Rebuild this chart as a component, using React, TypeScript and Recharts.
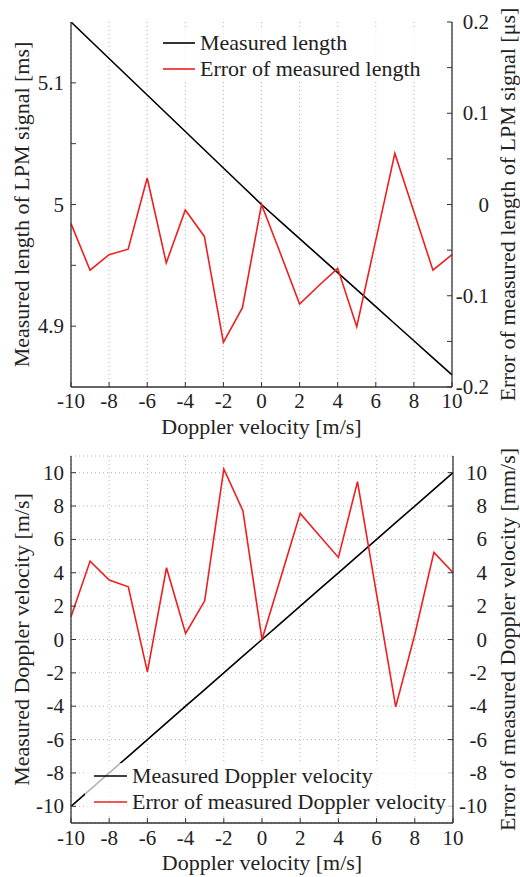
import { CartesianGrid, Legend, Line, LineChart, XAxis, YAxis } from 'recharts'

const velocity = [-10, -9, -8, -7, -6, -5, -4, -3, -2, -1, 0, 1, 2, 3, 4, 5, 6, 7, 8, 9, 10]

// top panel: LPM signal length [ms] and its error [us]
const measuredLength = [
  5.15, 5.135, 5.12, 5.105, 5.09, 5.075, 5.06, 5.045, 5.03, 5.015, 5.0, 4.986, 4.972, 4.958, 4.944,
  4.93, 4.916, 4.902, 4.888, 4.874, 4.86,
]
const lengthError = [
  -0.021, -0.072, -0.055, -0.049, 0.029, -0.064, -0.006, -0.035, -0.151, -0.113, 0, -0.054, -0.109,
  -0.089, -0.07, -0.134, -0.039, 0.056, -0.008, -0.072, -0.055,
]

// bottom panel: Doppler velocity [m/s] and its error [mm/s]
const measuredDoppler = [-10, -9, -8, -7, -6, -5, -4, -3, -2, -1, 0, 1, 2, 3, 4, 5, 6, 7, 8, 9, 10]
const dopplerError = [
  1.36, 4.7, 3.56, 3.16, -1.94, 4.3, 0.36, 2.32, 10.22, 7.72, 0, 3.78, 7.56, 6.24, 4.92, 9.46, 2.7,
  -4.04, 0.3, 5.22, 4.02,
]

const xTicks = [-10, -8, -6, -4, -2, 0, 2, 4, 6, 8, 10]
const lengthTicks = [4.9, 4.95, 5, 5.05, 5.1]
const lengthErrTicks = [-0.2, -0.15, -0.1, -0.05, 0, 0.05, 0.1, 0.15, 0.2]
const dopplerTicks = [-10, -8, -6, -4, -2, 0, 2, 4, 6, 8, 10]

const topNames = ['Measured length', 'Error of measured length']
const bottomNames = ['Measured Doppler velocity', 'Error of measured Doppler velocity']

const FONT = '"Liberation Serif", "Times New Roman", Times, "Nimbus Roman", "DejaVu Serif", serif'
const TEXT = '#222'
const AXIS = '#333'
const RED = '#f01e1e'

const topData = velocity.map((v, i) => ({ v, length: measuredLength[i], err: lengthError[i] }))
const bottomData = velocity.map((v, i) => ({ v, doppler: measuredDoppler[i], err: dopplerError[i] }))

// labels only on multiples of 0.1, minor ticks stay as plain marks
const tenths = (v: number) =>
  Math.abs(v * 10 - Math.round(v * 10)) < 1e-6 ? String(Math.round(v * 10) / 10) : ''

// MATLAB style tick: mark points into the box
function EdgeTick(props: any) {
  const { x, y, payload, side, fmt, offset = 0 } = props
  const label = fmt ? fmt(payload.value) : ''
  const textStyle = { fontFamily: FONT, fontSize: 21, fill: TEXT }
  if (side === 'left') {
    return (
      <g>
        <line x1={x} y1={y} x2={x + 5} y2={y} stroke={AXIS} />
        <text x={x - offset} y={y} textAnchor="end" dominantBaseline="central" style={textStyle}>
          {label}
        </text>
      </g>
    )
  }
  if (side === 'right') {
    return (
      <g>
        <line x1={x} y1={y} x2={x - 5} y2={y} stroke={AXIS} />
        <text x={x + offset} y={y} textAnchor="end" dominantBaseline="central" style={textStyle}>
          {label}
        </text>
      </g>
    )
  }
  if (side === 'top') {
    return <line x1={x} y1={y} x2={x} y2={y + 5} stroke={AXIS} />
  }
  return (
    <g>
      <line x1={x} y1={y} x2={x} y2={y - 5} stroke={AXIS} />
      <text x={x} y={y + offset} textAnchor="middle" dominantBaseline="central" style={textStyle}>
        {label}
      </text>
    </g>
  )
}

function BoxLegend(props: any) {
  const { payload = [], sample, order } = props
  const items = [...payload].sort((a: any, b: any) => order.indexOf(a.value) - order.indexOf(b.value))
  return (
    <div
      style={{
        background: 'rgba(255,255,255,0.7)',
        padding: '0 6px 0 9px',
        fontFamily: FONT,
        fontSize: 22,
        color: TEXT,
      }}
    >
      {items.map((entry: any) => (
        <div key={entry.value} style={{ display: 'flex', alignItems: 'center', height: 26 }}>
          <svg width={sample} height={4} style={{ marginRight: 5 }}>
            <line x1={0} y1={2} x2={sample} y2={2} stroke={entry.color} strokeWidth={1.6} />
          </svg>
          <span style={{ whiteSpace: 'nowrap', lineHeight: '26px' }}>{entry.value}</span>
        </div>
      ))}
    </div>
  )
}

const titleStyle = { fontFamily: FONT, fontSize: 22, fill: TEXT }

function LengthChart() {
  return (
    <LineChart width={520} height={440} data={topData} margin={{ top: 22, right: 0, bottom: 0, left: 0 }}>
      <CartesianGrid horizontal={false} stroke="#b5b5b5" strokeDasharray="1 3" yAxisId="left" />
      <XAxis
        dataKey="v"
        type="number"
        domain={[-10, 10]}
        ticks={xTicks}
        height={53}
        tickSize={0}
        tickMargin={0}
        tickLine={false}
        axisLine={{ stroke: AXIS, strokeWidth: 1.3 }}
        tick={<EdgeTick side="bottom" fmt={String} offset={14} />}
        label={{ value: 'Doppler velocity [m/s]', position: 'center', dy: 13, style: titleStyle }}
      />
      <XAxis
        xAxisId="top"
        orientation="top"
        dataKey="v"
        type="number"
        domain={[-10, 10]}
        ticks={xTicks}
        height={0}
        tickSize={0}
        tickMargin={0}
        tickLine={false}
        axisLine={{ stroke: AXIS, strokeWidth: 1.3 }}
        tick={<EdgeTick side="top" />}
      />
      <YAxis
        yAxisId="left"
        domain={[4.85, 5.15]}
        ticks={lengthTicks}
        allowDataOverflow
        width={71}
        tickSize={0}
        tickMargin={0}
        tickLine={false}
        axisLine={{ stroke: AXIS, strokeWidth: 1.3 }}
        tick={<EdgeTick side="left" fmt={tenths} offset={7} />}
        label={{
          value: 'Measured length of LPM signal [ms]',
          angle: -90,
          position: 'center',
          dx: -14,
          style: titleStyle,
        }}
      />
      <YAxis
        yAxisId="right"
        orientation="right"
        domain={[-0.2, 0.2]}
        ticks={lengthErrTicks}
        allowDataOverflow
        width={68}
        tickSize={0}
        tickMargin={0}
        tickLine={false}
        axisLine={{ stroke: AXIS, strokeWidth: 1.3 }}
        tick={<EdgeTick side="right" fmt={tenths} offset={37} />}
        label={{
          value: 'Error of measured length of LPM signal [μs]',
          angle: -90,
          position: 'center',
          dx: 21,
          style: titleStyle,
        }}
      />
      <Legend
        layout="vertical"
        align="center"
        verticalAlign="middle"
        wrapperStyle={{ left: 154, top: 30, width: 'auto', height: 'auto' }}
        content={<BoxLegend sample={32} order={topNames} />}
      />
      <Line
        yAxisId="left"
        dataKey="length"
        name={topNames[0]}
        stroke="#000"
        strokeWidth={1.6}
        dot={false}
        isAnimationActive={false}
      />
      <Line
        yAxisId="right"
        dataKey="err"
        name={topNames[1]}
        stroke={RED}
        strokeWidth={1.6}
        dot={false}
        isAnimationActive={false}
      />
    </LineChart>
  )
}

function DopplerChart() {
  return (
    <LineChart width={520} height={437} data={bottomData} margin={{ top: 16, right: 0, bottom: 0, left: 0 }}>
      <CartesianGrid stroke="#b5b5b5" strokeDasharray="1 3" yAxisId="left" />
      <XAxis
        dataKey="v"
        type="number"
        domain={[-10, 10]}
        ticks={xTicks}
        height={54}
        tickSize={0}
        tickMargin={0}
        tickLine={false}
        axisLine={{ stroke: AXIS, strokeWidth: 1.3 }}
        tick={<EdgeTick side="bottom" fmt={String} offset={15} />}
        label={{ value: 'Doppler velocity [m/s]', position: 'center', dy: 12, style: titleStyle }}
      />
      <XAxis
        xAxisId="top"
        orientation="top"
        dataKey="v"
        type="number"
        domain={[-10, 10]}
        ticks={xTicks}
        height={0}
        tickSize={0}
        tickMargin={0}
        tickLine={false}
        axisLine={{ stroke: AXIS, strokeWidth: 1.3 }}
        tick={<EdgeTick side="top" />}
      />
      <YAxis
        yAxisId="left"
        domain={[-11, 11]}
        ticks={dopplerTicks}
        allowDataOverflow
        width={71}
        tickSize={0}
        tickMargin={0}
        tickLine={false}
        axisLine={{ stroke: AXIS, strokeWidth: 1.3 }}
        tick={<EdgeTick side="left" fmt={String} offset={7} />}
        label={{
          value: 'Measured Doppler velocity [m/s]',
          angle: -90,
          position: 'center',
          dx: -14,
          style: titleStyle,
        }}
      />
      <YAxis
        yAxisId="right"
        orientation="right"
        domain={[-11, 11]}
        ticks={dopplerTicks}
        allowDataOverflow
        width={67}
        tickSize={0}
        tickMargin={0}
        tickLine={false}
        axisLine={{ stroke: AXIS, strokeWidth: 1.3 }}
        tick={<EdgeTick side="right" fmt={String} offset={34} />}
        label={{
          value: 'Error of measured Doppler velocity [mm/s]',
          angle: -90,
          position: 'center',
          dx: 21,
          style: titleStyle,
        }}
      />
      <Legend
        layout="vertical"
        align="center"
        verticalAlign="middle"
        wrapperStyle={{ left: 85, top: 323, width: 'auto', height: 'auto' }}
        content={<BoxLegend sample={33} order={bottomNames} />}
      />
      <Line
        yAxisId="left"
        dataKey="doppler"
        name={bottomNames[0]}
        stroke="#000"
        strokeWidth={1.6}
        dot={false}
        isAnimationActive={false}
      />
      <Line
        yAxisId="right"
        dataKey="err"
        name={bottomNames[1]}
        stroke={RED}
        strokeWidth={1.6}
        dot={false}
        isAnimationActive={false}
      />
    </LineChart>
  )
}

export default function App() {
  return (
    <div style={{ position: 'absolute', left: 0, top: 0, width: 520, height: 877, background: '#fff' }}>
      <LengthChart />
      <DopplerChart />
    </div>
  )
}
